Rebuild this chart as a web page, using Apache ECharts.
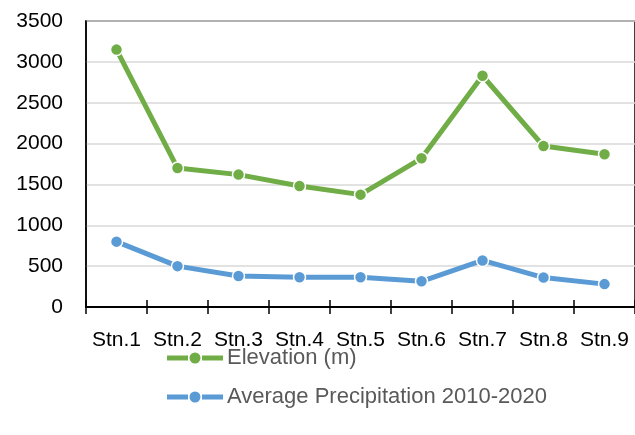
<!DOCTYPE html>
<html>
<head>
<meta charset="utf-8">
<script src="https://cdn.jsdelivr.net/npm/echarts@6/dist/echarts.min.js"></script>
<style>
  html, body { margin: 0; padding: 0; background: #fff; }
  #chart { width: 635px; height: 435px; }
</style>
</head>
<body>
<div id="chart"></div>
<script>
// Station names along the x axis
const stations = ['Stn.1', 'Stn.2', 'Stn.3', 'Stn.4', 'Stn.5', 'Stn.6', 'Stn.7', 'Stn.8', 'Stn.9'];
// Station elevation in metres
const elevation = [3150, 1700, 1620, 1480, 1375, 1820, 2830, 1970, 1870];
// Mean annual precipitation over 2010-2020
const precipitation = [800, 500, 380, 365, 365, 315, 570, 360, 280];
// Value axis range
const yMin = 0, yMax = 3500, yStep = 500;

const FONT = 'Liberation Sans';
// legend key: thick line segment with a marker dot in the middle
const LEGEND_ICON = 'path://M0,3h21v5h-21zM35,3h21v5h-21zM28,0a5.5,5.5 0 1,1 -0.01,0z';

const chart = echarts.init(document.getElementById('chart'), null, { renderer: 'canvas' });

const lineSeries = (name, data, color) => ({
  name: name,
  type: 'line',
  data: data,
  symbol: 'circle',
  symbolSize: 12,
  lineStyle: { color: color, width: 5 },
  itemStyle: { color: color, borderColor: '#fff', borderWidth: 1.5 },
  emphasis: { disabled: true },
  animation: false
});

chart.setOption({
  animation: false,
  textStyle: { fontFamily: FONT },
  // plot frame: top and left edges visible, right edge runs past the canvas
  grid: {
    left: 86, top: 21, width: 553, height: 286,
    show: true, borderColor: '#000', borderWidth: 1.5, backgroundColor: 'transparent'
  },
  xAxis: [{
    type: 'category',
    data: stations,
    boundaryGap: true,
    axisLine: { lineStyle: { color: '#000', width: 2 } },
    axisTick: { show: true, interval: 0, length: 7, lineStyle: { color: '#000', width: 1.5 } },
    axisLabel: { color: '#000', fontSize: 21, fontFamily: FONT, margin: 23, interval: 0 }
  }, {
    // second copy of the axis only adds the inner half of each tick
    type: 'category',
    data: stations,
    position: 'bottom',
    boundaryGap: true,
    axisLine: { show: false },
    axisTick: { show: true, interval: 0, inside: true, length: 7, lineStyle: { color: '#000', width: 1.5 } },
    axisLabel: { show: false }
  }],
  yAxis: {
    type: 'value',
    min: yMin, max: yMax, interval: yStep,
    axisLine: { show: true, lineStyle: { color: '#000', width: 1.5 } },
    axisTick: { show: false },
    splitLine: { lineStyle: { color: '#d9d9d9', width: 1.5 } },
    axisLabel: { color: '#000', fontSize: 21, fontFamily: FONT, margin: 23, formatter: v => String(v) }
  },
  legend: {
    orient: 'vertical',
    left: 167, top: 347,
    padding: 0,
    itemWidth: 56, itemHeight: 11,
    itemGap: 17,
    icon: LEGEND_ICON,
    itemStyle: { borderWidth: 0 },
    lineStyle: { width: 0 },
    textStyle: { color: '#595959', fontSize: 22, fontFamily: FONT, padding: [0, 0, 0, -1] },
    data: ['Elevation (m)', 'Average Precipitation 2010-2020']
  },
  series: [
    lineSeries('Elevation (m)', elevation, '#70AD47'),
    lineSeries('Average Precipitation 2010-2020', precipitation, '#5B9BD5')
  ]
});
</script>
</body>
</html>
